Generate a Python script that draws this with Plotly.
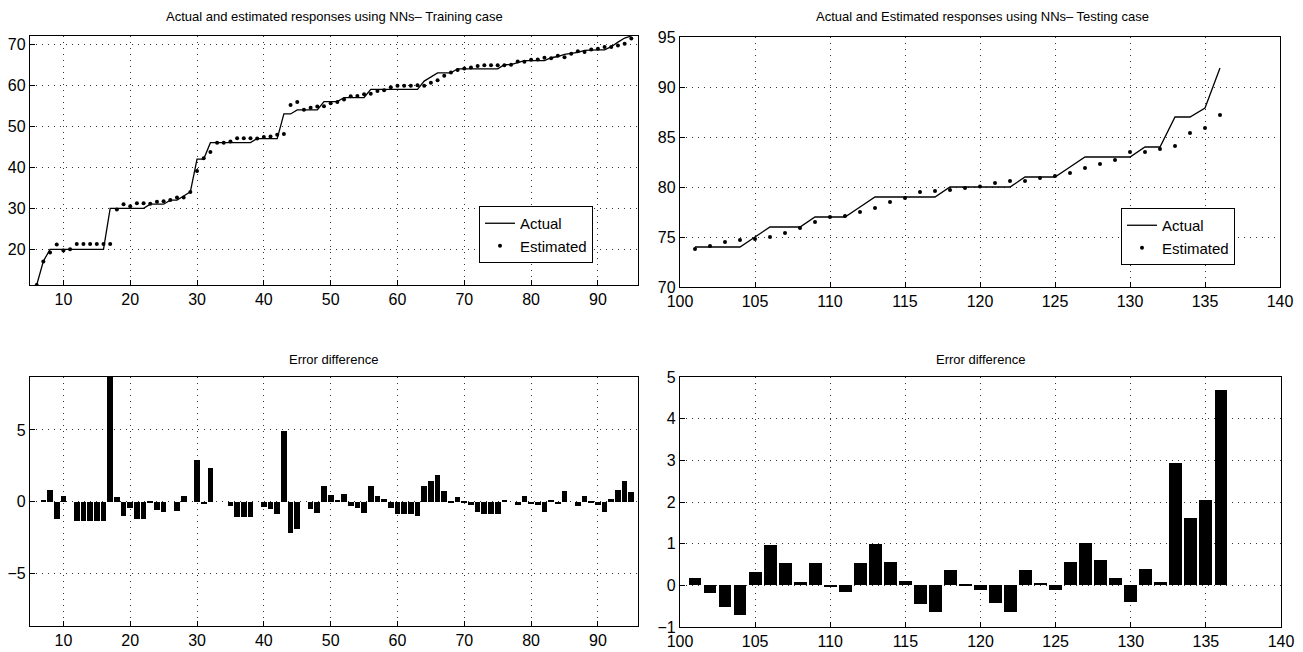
import plotly.graph_objects as go

# ---------------- data ----------------
train_idx = list(range(6, 96))
train_actual = [11.3, 17.1, 20, 20, 20, 20, 20, 20, 20, 20, 20, 30, 30, 30, 30, 30, 30, 31, 31, 31,
                32, 32, 33, 34, 42, 42, 46, 46, 46, 46, 46, 46, 46, 47, 47, 47, 47, 53, 53, 54,
                54, 54, 54, 56, 56, 56, 57, 57, 57, 57, 59, 59, 59, 59, 59, 59, 59, 59, 61, 62,
                63, 63, 63, 64, 64, 64, 64, 64, 64, 64, 65, 65, 65.5, 66, 66, 66, 66, 66.7, 67, 67.5,
                67.7, 68, 68.5, 68.6, 68.6, 68.6, 69.4, 70.5, 71.5, 72]
train_est = [11.3, 17.0, 19.2, 21.2, 19.7, 20.0, 21.3, 21.3, 21.3, 21.3, 21.3, 21.3, 29.7, 31.0, 30.5, 31.2, 31.2, 31.1, 31.6, 31.7,
             32.0, 32.6, 32.6, 34.0, 39.1, 42.2, 43.7, 46.0, 46.0, 46.3, 47.1, 47.1, 47.1, 47.0, 47.4, 47.5, 47.9, 48.1, 55.2, 55.9,
             54.0, 54.5, 54.8, 54.9, 55.6, 55.9, 56.5, 57.3, 57.4, 57.8, 57.9, 58.6, 58.8, 59.5, 59.9, 59.9, 59.9, 60.0, 59.9, 60.6,
             61.2, 62.3, 63.1, 63.7, 64.1, 64.3, 64.7, 64.9, 64.9, 64.9, 64.9, 65.0, 65.8, 65.7, 66.2, 66.3, 66.7, 66.6, 67.2, 66.8,
             67.7, 68.3, 68.1, 68.7, 68.9, 69.3, 69.3, 69.7, 70.1, 71.4]
train_err = [0, 0.1, 0.77, -1.23, 0.35, 0, -1.33, -1.33, -1.33, -1.33, -1.33, 8.7, 0.3, -1.0, -0.47, -1.22, -1.22, -0.1, -0.58, -0.74,
             0, -0.63, 0.4, 0, 2.9, -0.2, 2.33, 0, 0, -0.3, -1.1, -1.1, -1.1, 0, -0.4, -0.5, -0.88, 4.93, -2.2, -1.9,
             0, -0.53, -0.82, 1.1, 0.45, 0.12, 0.5, -0.3, -0.42, -0.8, 1.1, 0.4, 0.2, -0.45, -0.9, -0.9, -0.9, -1.0, 1.1, 1.4,
             1.85, 0.7, -0.1, 0.3, -0.1, -0.25, -0.7, -0.9, -0.9, -0.9, 0.1, 0, -0.25, 0.35, -0.15, -0.25, -0.7, 0.1, -0.2, 0.7,
             0, -0.3, 0.4, -0.05, -0.25, -0.7, 0.15, 0.8, 1.4, 0.65]

test_idx = list(range(101, 137))
test_actual = [74, 74, 74, 74, 75, 76, 76, 76, 77, 77, 77, 78, 79, 79, 79, 79, 79, 80, 80, 80,
               80, 80, 81, 81, 81, 82, 83, 83, 83, 83, 84, 84, 87, 87, 87.9, 91.9]
test_est = [73.8, 74.1, 74.5, 74.7, 74.8, 75.0, 75.4, 75.9, 76.5, 77.0, 77.1, 77.5, 77.9, 78.5, 78.9, 79.5, 79.6, 79.7, 79.9, 80.05,
            80.4, 80.6, 80.6, 80.9, 81.1, 81.4, 81.9, 82.3, 82.7, 83.5, 83.5, 83.8, 84.1, 85.4, 85.9, 87.2]
test_err = [0.18, -0.18, -0.51, -0.70, 0.32, 0.97, 0.53, 0.07, 0.53, -0.03, -0.15, 0.53, 1.0, 0.57, 0.10, -0.44, -0.64, 0.37, 0.02, -0.11,
            -0.43, -0.64, 0.37, 0.05, -0.10, 0.57, 1.02, 0.60, 0.17, -0.40, 0.40, 0.09, 2.93, 1.62, 2.06, 4.69]

titles = ["Actual and estimated responses using NNs\u2013 Training case",
          "Actual and Estimated responses using NNs\u2013 Testing case",
          "Error difference", "Error difference"]

# ---------------- figure ----------------
W, H = 1303, 652
FONT = "Liberation Sans Narrow, Arial Narrow, Liberation Sans, Arial, sans-serif"

def dx(a, b):
    return [a / W, b / W]

def dy(top, bottom):
    return [1 - bottom / H, 1 - top / H]

def px(x):
    return x / W

def py(y):
    return 1 - y / H

fig = go.Figure()

fig.add_trace(go.Scatter(x=train_idx, y=train_actual, mode="lines", name="Actual",
                         line=dict(color="black", width=1.3), xaxis="x", yaxis="y", legend="legend"))
fig.add_trace(go.Scatter(x=train_idx, y=train_est, mode="markers", name="Estimated",
                         marker=dict(color="black", size=4), xaxis="x", yaxis="y", legend="legend"))
fig.add_trace(go.Scatter(x=test_idx, y=test_actual, mode="lines", name="Actual",
                         line=dict(color="black", width=1.3), xaxis="x2", yaxis="y2", legend="legend2"))
fig.add_trace(go.Scatter(x=test_idx, y=test_est, mode="markers", name="Estimated",
                         marker=dict(color="black", size=4), xaxis="x2", yaxis="y2", legend="legend2"))
fig.add_trace(go.Bar(x=train_idx, y=train_err, width=0.85, marker=dict(color="black", line=dict(width=0)),
                     showlegend=False, xaxis="x3", yaxis="y3"))
fig.add_trace(go.Bar(x=test_idx, y=test_err, width=0.85, marker=dict(color="black", line=dict(width=0)),
                     showlegend=False, xaxis="x4", yaxis="y4"))

axis_common = dict(showline=True, linecolor="black", linewidth=1.3, mirror=True, automargin=False,
                   showgrid=True, gridcolor="#333333", griddash="1px,5px", gridwidth=1,
                   zeroline=False, ticks="inside", ticklen=5, tickcolor="black",
                   tickfont=dict(family=FONT, size=16, color="black"))

fig.update_layout(
    template="none",
    width=W, height=H, margin=dict(l=0, r=0, t=0, b=0, autoexpand=False),
    paper_bgcolor="white", plot_bgcolor="white",
    font=dict(family=FONT, color="black"),
    bargap=0,
    xaxis=dict(domain=dx(30, 638), range=[5, 96], tickvals=[10, 20, 30, 40, 50, 60, 70, 80, 90], anchor="y", **axis_common),
    yaxis=dict(domain=dy(36, 285), range=[11.3, 72], tickvals=[20, 30, 40, 50, 60, 70], anchor="x", **axis_common),
    xaxis2=dict(domain=dx(680, 1280), range=[100, 140], dtick=5, anchor="y2", **axis_common),
    yaxis2=dict(domain=dy(37, 287), range=[70, 95], dtick=5, anchor="x2", **axis_common),
    xaxis3=dict(domain=dx(30, 638), range=[5, 96], tickvals=[10, 20, 30, 40, 50, 60, 70, 80, 90], anchor="y3", **axis_common),
    yaxis3=dict(domain=dy(377, 626), range=[-8.7, 8.7], tickvals=[-5, 0, 5], anchor="x3", **axis_common),
    xaxis4=dict(domain=dx(680, 1281), range=[100, 140], dtick=5, anchor="y4", **axis_common),
    yaxis4=dict(domain=dy(377, 627), range=[-1, 5], dtick=1, anchor="x4", **axis_common),
    legend=dict(x=px(593), y=py(263), xanchor="right", yanchor="bottom",
                bgcolor="white", bordercolor="black", borderwidth=1,
                font=dict(family=FONT, size=15, color="black"), tracegroupgap=0,
                itemwidth=30),
    legend2=dict(x=px(1235), y=py(265), xanchor="right", yanchor="bottom",
                 bgcolor="white", bordercolor="black", borderwidth=1,
                 font=dict(family=FONT, size=15, color="black"), tracegroupgap=0,
                 itemwidth=30),
)

title_pos = [(334, 17), (982, 17), (333, 359), (980, 359)]
for t, (tx, ty) in zip(titles, title_pos):
    fig.add_annotation(text=t, x=px(tx), y=py(ty), xref="paper", yref="paper",
                       xanchor="center", yanchor="middle", showarrow=False,
                       font=dict(family=FONT, size=13, color="black"))

fig.write_html("out.html",
               config={"displayModeBar": False, "staticPlot": False},
               post_script="document.body.style.margin='0';document.body.style.overflow='hidden';")
